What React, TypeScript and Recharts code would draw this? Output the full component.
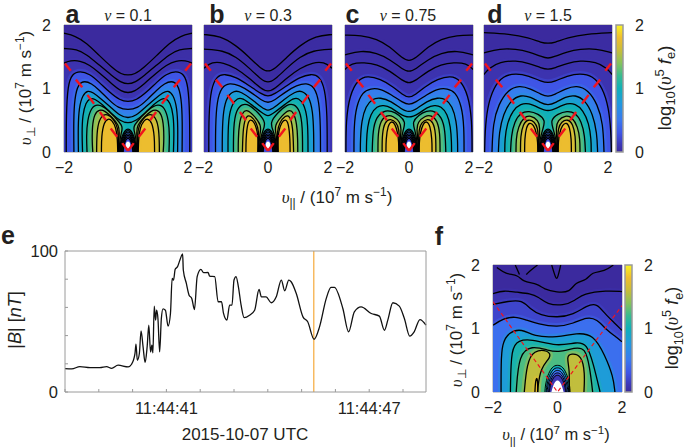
import { ScatterChart, Scatter, LineChart, Line, XAxis, YAxis, ReferenceLine } from 'recharts'

type Pt = [number, number]

// colour scale, value 0..2
const scaleValues = [0, 0.12, 0.3, 0.5, 0.75, 1, 1.2, 1.4, 1.6, 1.8, 2]
const scaleColors = ['#3b2a9e', '#3d38b8', '#3f55e6', '#3a78f0', '#2297e0', '#10b0b8', '#38bb90', '#86c25c', '#c8bd3a', '#f0bd2e', '#f9f520']

// half contours, centre (x = 0) to the outside
const aArches: Pt[][] = [
  [[0, 1.21], [0.2, 1.22], [0.5, 1.33], [0.9, 1.52], [1.3, 1.72], [1.65, 1.83], [2, 1.87]],
  [[0, 1.07], [0.2, 1.09], [0.5, 1.2], [0.9, 1.37], [1.3, 1.54], [1.6, 1.62], [2, 1.63]],
  [[0, 0.93], [0.2, 0.95], [0.5, 1.07], [0.9, 1.25], [1.2, 1.37], [1.5, 1.44], [1.8, 1.44], [2, 1.4]],
  [[0, 0.79], [0.25, 0.81], [0.6, 0.95], [0.9, 1.1], [1.2, 1.23], [1.5, 1.28], [1.75, 1.23], [1.88, 1.05], [1.93, 0.6], [1.93, 0]],
  [[0, 0.66], [0.3, 0.69], [0.6, 0.82], [0.9, 0.98], [1.15, 1.08], [1.35, 1.12], [1.55, 1.08], [1.67, 0.85], [1.7, 0.5], [1.69, 0]],
  [[0, 0.53], [0.25, 0.57], [0.55, 0.71], [0.85, 0.84], [1.1, 0.94], [1.25, 0.97], [1.42, 0.9], [1.53, 0.7], [1.56, 0.4], [1.55, 0]],
  [[0, 0.45], [0.25, 0.49], [0.55, 0.62], [0.8, 0.75], [1.05, 0.84], [1.18, 0.85], [1.32, 0.78], [1.42, 0.58], [1.44, 0.3], [1.42, 0]],
]
const aLobes: Pt[][] = [
  [[0.27, 0], [0.27, 0.12], [0.22, 0.3], [0.14, 0.4], [0.4, 0.54], [0.65, 0.68], [0.95, 0.76], [1.15, 0.7], [1.27, 0.5], [1.3, 0.25], [1.28, 0]],
  [[0.29, 0], [0.29, 0.15], [0.27, 0.3], [0.28, 0.42], [0.5, 0.55], [0.72, 0.65], [0.9, 0.67], [1.05, 0.6], [1.12, 0.4], [1.12, 0.15], [1.1, 0]],
  [[0.3, 0], [0.3, 0.2], [0.31, 0.38], [0.45, 0.52], [0.65, 0.6], [0.82, 0.58], [0.96, 0.42], [0.98, 0.12], [0.98, 0]],
  [[0.32, 0], [0.33, 0.2], [0.37, 0.38], [0.5, 0.5], [0.62, 0.53], [0.75, 0.47], [0.83, 0.25], [0.83, 0]],
]

const bArches: Pt[][] = [
  [[0, 1.265], [0.2, 1.3], [0.6, 1.5], [1, 1.68], [1.5, 1.83], [2, 1.85]],
  [[0, 1.09], [0.2, 1.13], [0.6, 1.33], [1, 1.5], [1.4, 1.6], [2, 1.62]],
  [[0, 0.95], [0.2, 0.99], [0.6, 1.17], [1, 1.32], [1.4, 1.41], [1.75, 1.42], [2, 1.32]],
  [[0, 0.87], [0.2, 0.91], [0.6, 1.05], [1, 1.18], [1.35, 1.23], [1.6, 1.2], [1.78, 1], [1.85, 0.6], [1.85, 0]],
  [[0, 0.77], [0.2, 0.81], [0.55, 0.95], [0.9, 1.05], [1.2, 1.09], [1.45, 1.03], [1.6, 0.8], [1.64, 0.4], [1.64, 0]],
  [[0, 0.64], [0.2, 0.7], [0.5, 0.83], [0.85, 0.95], [1.05, 0.97], [1.28, 0.88], [1.4, 0.65], [1.43, 0.3], [1.43, 0]],
  [[0, 0.55], [0.2, 0.62], [0.5, 0.74], [0.8, 0.85], [0.95, 0.85], [1.12, 0.76], [1.23, 0.55], [1.25, 0.25], [1.25, 0]],
]
const bLobes: Pt[][] = [
  [[0.27, 0], [0.26, 0.15], [0.18, 0.32], [0.05, 0.46], [0.3, 0.62], [0.6, 0.75], [0.8, 0.76], [1, 0.66], [1.08, 0.4], [1.08, 0]],
  [[0.29, 0], [0.28, 0.15], [0.25, 0.3], [0.2, 0.42], [0.45, 0.58], [0.65, 0.67], [0.8, 0.63], [0.9, 0.45], [0.93, 0.2], [0.93, 0]],
  [[0.3, 0], [0.3, 0.18], [0.29, 0.32], [0.35, 0.46], [0.55, 0.58], [0.68, 0.57], [0.78, 0.4], [0.8, 0]],
  [[0.32, 0], [0.31, 0.2], [0.33, 0.32], [0.42, 0.47], [0.55, 0.52], [0.64, 0.46], [0.69, 0.2], [0.69, 0]],
]

const cArches: Pt[][] = [
  [[0, 1.43], [0.2, 1.47], [0.6, 1.66], [1, 1.78], [1.5, 1.84], [2, 1.84]],
  [[0, 1.26], [0.2, 1.3], [0.6, 1.46], [1, 1.56], [1.5, 1.6], [2, 1.53]],
  [[0, 1.08], [0.2, 1.12], [0.6, 1.28], [1, 1.38], [1.4, 1.41], [1.8, 1.4], [2, 1.3]],
  [[0, 0.85], [0.2, 0.9], [0.5, 1.03], [0.9, 1.15], [1.3, 1.2], [1.6, 1.14], [1.85, 0.9], [1.97, 0.5], [1.97, 0]],
  [[0, 0.74], [0.2, 0.78], [0.55, 0.9], [0.9, 1], [1.2, 1], [1.45, 0.95], [1.65, 0.72], [1.72, 0.4], [1.72, 0]],
  [[0, 0.62], [0.25, 0.68], [0.55, 0.8], [0.9, 0.86], [1.15, 0.84], [1.35, 0.72], [1.48, 0.5], [1.52, 0.2], [1.52, 0]],
  [[0, 0.53], [0.3, 0.6], [0.55, 0.7], [0.8, 0.74], [1, 0.72], [1.2, 0.6], [1.3, 0.4], [1.33, 0.15], [1.33, 0]],
]
const cLobes: Pt[][] = [
  [[0.27, 0], [0.26, 0.15], [0.18, 0.36], [0.1, 0.47], [0.3, 0.58], [0.55, 0.65], [0.8, 0.65], [1.02, 0.55], [1.13, 0.35], [1.15, 0]],
  [[0.29, 0], [0.28, 0.18], [0.24, 0.36], [0.27, 0.47], [0.5, 0.57], [0.7, 0.58], [0.88, 0.5], [0.97, 0.3], [0.97, 0]],
  [[0.3, 0], [0.3, 0.18], [0.31, 0.35], [0.38, 0.46], [0.58, 0.53], [0.75, 0.48], [0.84, 0.3], [0.84, 0]],
  [[0.32, 0], [0.32, 0.15], [0.35, 0.3], [0.44, 0.45], [0.55, 0.49], [0.66, 0.42], [0.72, 0.2], [0.72, 0]],
]

const dArches: Pt[][] = [
  [[0, 1.71], [0.2, 1.72], [0.6, 1.8], [1.2, 1.86], [2, 1.88]],
  [[0, 1.47], [0.2, 1.5], [0.6, 1.58], [1, 1.62], [1.5, 1.63], [2, 1.56]],
  [[0, 1.3], [0.2, 1.32], [0.6, 1.4], [1, 1.44], [1.5, 1.42], [1.85, 1.32], [2, 1.22]],
  [[0, 1.09], [0.2, 1.11], [0.6, 1.2], [1, 1.24], [1.4, 1.2], [1.7, 1.02], [1.9, 0.7], [1.97, 0.3], [1.98, 0]],
  [[0, 0.87], [0.2, 0.9], [0.55, 1], [0.9, 1.05], [1.25, 0.98], [1.55, 0.75], [1.72, 0.45], [1.75, 0]],
  [[0, 0.73], [0.25, 0.78], [0.55, 0.87], [0.85, 0.9], [1.15, 0.82], [1.4, 0.6], [1.53, 0.3], [1.55, 0]],
  [[0, 0.63], [0.3, 0.7], [0.6, 0.77], [0.85, 0.76], [1.1, 0.66], [1.28, 0.45], [1.35, 0.2], [1.35, 0]],
]
const dLobes: Pt[][] = [
  [[0.27, 0], [0.26, 0.2], [0.15, 0.38], [0.08, 0.5], [0.3, 0.6], [0.6, 0.65], [0.85, 0.62], [1.05, 0.48], [1.15, 0.25], [1.17, 0]],
  [[0.29, 0], [0.28, 0.2], [0.25, 0.38], [0.3, 0.5], [0.55, 0.58], [0.75, 0.55], [0.93, 0.4], [1, 0.2], [1, 0]],
  [[0.3, 0], [0.3, 0.2], [0.32, 0.38], [0.42, 0.48], [0.62, 0.52], [0.78, 0.44], [0.86, 0.25], [0.86, 0]],
  [[0.32, 0], [0.32, 0.15], [0.36, 0.3], [0.45, 0.43], [0.58, 0.47], [0.68, 0.39], [0.73, 0.2], [0.73, 0]],
]

// levels of the bands inside each contour
const archLevels = [0.02, 0.04, 0.08, 0.3, 0.55, 0.8, 1.0]
const lobeLevels = [1.18, 1.4, 1.62, 1.78]

// nested rings round the origin, the hole in the middle of the lobes
const coreArcs: Pt[][] = [
  [[0, 0.37], [0.1, 0.34], [0.2, 0.24], [0.25, 0.1], [0.26, 0]],
  [[0, 0.345], [0.09, 0.32], [0.185, 0.22], [0.235, 0.1], [0.245, 0]],
  [[0, 0.32], [0.085, 0.3], [0.17, 0.2], [0.22, 0.09], [0.23, 0]],
  [[0, 0.295], [0.08, 0.27], [0.155, 0.18], [0.2, 0.08], [0.21, 0]],
  [[0, 0.27], [0.075, 0.25], [0.14, 0.17], [0.18, 0.08], [0.19, 0]],
  [[0, 0.245], [0.07, 0.225], [0.125, 0.16], [0.16, 0.07], [0.17, 0]],
  [[0, 0.22], [0.06, 0.2], [0.11, 0.14], [0.14, 0.06], [0.15, 0]],
]
const coreLevels = [0.85, 0.7, 0.55, 0.42, 0.3, 0.2, 0.25]
const coreHole: Pt[] = [[0, 0.17], [0.05, 0.16], [0.08, 0.11], [0.05, 0.06], [0, 0.05]]

// red dashes, right half
const redDashes: Pt[][] = [
  [[1.97, 1.395], [1.79, 1.28]],
  [[1.63, 1.14], [1.43, 1.02]],
  [[1.27, 0.9], [1.06, 0.76]],
  [[0.88, 0.63], [0.69, 0.5]],
  [[0.54, 0.37], [0.34, 0.24]],
  [[0.18, 0.14], [0, 0.02]],
]

// panel e
const bTimes = [38, 38.2, 38.44, 38.74, 39.03, 39.23, 39.38, 39.57, 39.87, 39.97, 40.07, 40.1, 40.14, 40.2, 40.25, 40.31, 40.37, 40.43, 40.48, 40.53, 40.57, 40.6, 40.64, 40.68, 40.71, 40.75, 40.8, 40.85, 40.9, 40.97, 41.05, 41.12, 41.17, 41.21, 41.26, 41.33, 41.4, 41.48, 41.5, 41.59, 41.67, 41.75, 41.83, 41.91, 42.02, 42.1, 42.23, 42.28, 42.43, 42.53, 42.63, 42.69, 42.79, 42.87, 42.94, 43, 43.06, 43.13, 43.21, 43.3, 43.46, 43.61, 43.74, 43.81, 43.95, 44.1, 44.25, 44.4, 44.5, 44.62, 44.69, 44.84, 45.04, 45.18, 45.37, 45.53, 45.73, 45.87, 45.97, 46.22, 46.39, 46.56, 46.76, 47.06, 47.3, 47.45, 47.55, 47.7, 47.89, 48.04, 48.2, 48.33, 48.5, 48.68]
const bField = [16.6, 16.4, 18, 17.3, 17.3, 18, 16.8, 19, 17.8, 19.7, 27.2, 33.9, 22.5, 27.3, 43.4, 32, 21, 32, 47.4, 28.4, 33.2, 27.7, 60.9, 51, 58, 52, 28.4, 52, 59, 58, 46.7, 55.7, 80.6, 79.4, 87, 88.9, 93.6, 97.9, 86.5, 77, 68.7, 66.4, 58.5, 81.8, 87, 84.6, 84.8, 82.2, 81.8, 64, 64, 55.7, 51, 61.6, 61.6, 79.4, 81.8, 74.6, 61.6, 52.8, 54.5, 58, 72.7, 67.5, 67.5, 63.3, 67.5, 79.4, 71.8, 79.4, 78.2, 70, 53.3, 49.8, 37.4, 46.2, 66.4, 74.2, 74.2, 59.2, 42.7, 56.9, 60.4, 55.7, 53.8, 43.8, 51, 63.3, 60.9, 52.1, 39.6, 42.7, 51.4, 47.4]
const bTable = bTimes.map((t, i) => ({ t, b: bField[i] }))
const timeTicks = [38, 39, 40, 41, 42, 43, 44, 45, 46, 47, 48]
const timeLabels: Record<number, string> = { 41: '11:44:41', 47: '11:44:47' }
const fieldTicks = [0, 20, 40, 60, 80, 100]
const markerTime = 45.36

// panel f
const fOpen: Pt[][] = [
  [[-1.88, 1.96], [-1.62, 1.86], [-1.2, 1.84], [-1.1, 1.74], [-0.59, 1.7], [-0.43, 1.62], [-0.02, 1.57], [0.39, 1.57], [0.55, 1.73], [0.91, 1.76], [1.06, 1.89], [1.47, 1.9], [1.73, 2]],
  [[-1.31, 2], [-1.18, 1.85]],
  [[-0.97, 1.85], [-0.8, 1.93], [-0.62, 2]],
  [[-0.18, 2], [-0.05, 1.78], [0, 1.78], [0.1, 2]],
]
const fBands: Pt[][] = [
  [[-2, 1.55], [-1.67, 1.6], [-1.25, 1.57], [-0.85, 1.55], [-0.59, 1.5], [-0.33, 1.38], [0.19, 1.36], [0.55, 1.44], [0.8, 1.55], [1.53, 1.6], [2, 1.58]],
  [[-2, 1.38], [-1.52, 1.43], [-1.1, 1.45], [-0.85, 1.31], [-0.54, 1.21], [0, 1.17], [0.5, 1.22], [0.91, 1.36], [1.22, 1.4], [1.47, 1.23], [1.78, 1.08], [2, 0.97]],
  [[-2, 1.05], [-1.67, 1.16], [-1.31, 1.19], [-1, 1.14], [-0.6, 1.07], [0, 1.02], [0.5, 1.08], [0.91, 1.18], [1.22, 1.15], [1.53, 0.97], [1.81, 0.87], [2, 0.79]],
  [[-1.75, 0], [-1.75, 0.45], [-1.72, 0.76], [-1.52, 0.94], [-1.1, 1], [-0.74, 0.87], [0, 0.86], [0.6, 0.93], [1.11, 0.91], [1.47, 0.58], [1.73, 0.24], [1.78, 0]],
  [[-1.46, 0], [-1.44, 0.71], [-1.2, 0.81], [-0.85, 0.84], [0, 0.71], [0.6, 0.79], [0.91, 0.76], [1.11, 0.45], [1.32, 0]],
  [[-1.28, 0], [-1.2, 0.6], [-0.8, 0.73], [-0.3, 0.66], [0, 0.62], [0.55, 0.7], [0.85, 0.7], [1, 0.4], [1.09, 0]],
]
const fBandLevels = [0.08, 0.2, 0.45, 0.8, 1.05, 1.25]
const fLobes: Pt[][] = [
  [[-1.03, 0], [-0.95, 0.45], [-0.74, 0.66], [-0.28, 0.66], [-0.18, 0.55], [-0.54, 0.39], [-0.62, 0]],
  [[0.36, 0], [0.38, 0.35], [0.28, 0.56], [0.42, 0.61], [0.75, 0.58], [0.85, 0.3], [0.82, 0]],
  [[-0.7, 0], [-0.68, 0.2], [-0.62, 0.24], [-0.61, 0]],
]
const fLobeLevels = [1.58, 1.58, 1.78]
const fArcs: Pt[][] = [
  [[0, 0.43], [0.17, 0.4], [0.31, 0.26], [0.38, 0.1], [0.39, 0]],
  [[0, 0.39], [0.15, 0.36], [0.28, 0.23], [0.34, 0.09], [0.35, 0]],
  [[0, 0.35], [0.13, 0.32], [0.25, 0.2], [0.31, 0.08], [0.32, 0]],
  [[0, 0.31], [0.12, 0.28], [0.22, 0.18], [0.27, 0.07], [0.28, 0]],
  [[0, 0.27], [0.1, 0.25], [0.2, 0.15], [0.24, 0.06], [0.25, 0]],
]
const fArcLevels = [1, 0.7, 0.45, 0.25, 0.1]
const fHole: Pt[] = [[0, 0.19], [0.08, 0.16], [0.15, 0.08], [0.19, 0]]
const fRedLine: Pt[] = [[-2, 1.42], [0, 0], [2, 1.36]]

const box: Pt[] = [[-2, 0], [-2, 2], [2, 2], [2, 0]]
const barBox: Pt[] = [[0, 0], [0, 2], [1, 2], [1, 0]]
const SANS = '"Liberation Sans", Arial, sans-serif'
const INK = '#231f20'
const FRAME = '#9a9a9a'
// every axis below takes one pixel of the plot, so M plus one is the space round it
const M = { top: 11, right: 29, bottom: 25, left: 29 }

const noDot = () => null
const toXY = (p: Pt[]) => p.map(([x, y]) => ({ x, y }))
const mirrorX = (p: Pt[]): Pt[] => p.map(([x, y]) => [-x, y] as Pt)
const both = (half: Pt[]): Pt[] => [...mirrorX(half.slice(1)).reverse(), ...half]
const minus = (v: number) => String(v).replace('-', '−')

function colorAt(v: number) {
  let i = 0
  while (i < scaleValues.length - 2 && v > scaleValues[i + 1]) i++
  const f = (v - scaleValues[i]) / (scaleValues[i + 1] - scaleValues[i])
  const ch = (c: string, s: number) => parseInt(c.slice(s, s + 2), 16)
  const mix = (s: number) => Math.round(ch(scaleColors[i], s) * (1 - f) + ch(scaleColors[i + 1], s) * f)
  return `rgb(${mix(1)},${mix(3)},${mix(5)})`
}

// open ends at the sides: run the fill down round the bottom corners
function closed(p: Pt[]): Pt[] {
  const a = p[0]
  const b = p[p.length - 1]
  if (b[1] === 0) return p
  return [...p, b, b, [b[0], 0], [b[0], 0], [b[0], 0], [a[0], 0], [a[0], 0], [a[0], 0]]
}

const fillSeries = (key: string, points: Pt[], color: string, joint: any = 'basis') => (
  <Scatter key={key} data={toXY(points)} shape={noDot} line={{ fill: color, stroke: 'none' }} lineJointType={joint} isAnimationActive={false} />
)
// same fill with a soft rim, so a band shades into the next one
const softSeries = (key: string, points: Pt[], color: string) => (
  <Scatter key={key} data={toXY(points)} shape={noDot} line={{ fill: color, stroke: color, strokeWidth: 6, strokeOpacity: 0.4 }} lineJointType="basis" isAnimationActive={false} />
)
const strokeSeries = (key: string, points: Pt[], color = '#000', w = 1.3, joint: any = 'basis', dash?: string) => (
  <Scatter key={key} data={toXY(points)} shape={noDot} line={{ fill: 'none', stroke: color, strokeWidth: w, strokeDasharray: dash }} lineJointType={joint} isAnimationActive={false} />
)

// the top row has its right hand "2" pulled in, clear of the next panel's "−2"
function PulledTick({ x, y, payload }: any) {
  const v = payload.value
  return (
    <text x={v === 2 ? x - 4 : x} y={y} dy="0.71em" textAnchor="middle" fontSize={16} fill={INK} fontFamily={SANS}>{minus(v)}</text>
  )
}

const frameAxes = (yLabels: boolean, pulled: boolean) => [
  <XAxis key="xb" type="number" dataKey="x" domain={[-2, 2]} ticks={[-2, 0, 2]} height={1} tickLine={false} stroke={FRAME} allowDataOverflow
    tick={pulled ? PulledTick : { fontSize: 16, fill: INK, fontFamily: SANS }} tickFormatter={minus} tickMargin={4} interval={0} />,
  <XAxis key="xt" xAxisId="t" orientation="top" type="number" domain={[-2, 2]} height={1} tick={false} tickLine={false} stroke={FRAME} />,
  <YAxis key="yl" type="number" dataKey="y" domain={[0, 2]} ticks={[0, 1, 2]} width={1} tickLine={false} stroke={FRAME} allowDataOverflow
    tick={yLabels ? { fontSize: 16, fill: INK, fontFamily: SANS } : false} tickMargin={7} interval={0} />,
  <YAxis key="yr" yAxisId="r" orientation="right" type="number" domain={[0, 2]} width={1} tick={false} tickLine={false} stroke={FRAME} />,
]

function HeatPanel({ left, top, arches, lobes, yLabels }: { left: number; top: number; arches: Pt[][]; lobes: Pt[][]; yLabels?: boolean }) {
  return (
    <div style={{ position: 'absolute', left: left - 30, top: top - 12 }}>
      <ScatterChart width={128 + 60} height={127 + 38} margin={M}>
        {frameAxes(!!yLabels, true)}
        {fillSeries('bg', box, colorAt(0), 'linear')}
        {arches.map((h, i) => softSeries(`af${i}`, closed(both(h)), colorAt(archLevels[i])))}
        {lobes.map((h, i) => softSeries(`lr${i}`, h, colorAt(lobeLevels[i])))}
        {lobes.map((h, i) => softSeries(`ll${i}`, mirrorX(h), colorAt(lobeLevels[i])))}
        {arches.map((h, i) => strokeSeries(`as${i}`, both(h)))}
        {lobes.map((h, i) => strokeSeries(`lsr${i}`, h))}
        {lobes.map((h, i) => strokeSeries(`lsl${i}`, mirrorX(h)))}
        {coreArcs.map((h, i) => fillSeries(`cf${i}`, both(h), colorAt(coreLevels[i])))}
        {coreArcs.map((h, i) => strokeSeries(`cs${i}`, both(h), '#000', 1.2))}
        {fillSeries('hole', both(coreHole), '#ffffff')}
        {redDashes.map((s, i) => strokeSeries(`rr${i}`, s, '#f0141e', 2.4, 'linear'))}
        {redDashes.map((s, i) => strokeSeries(`rl${i}`, mirrorX(s), '#f0141e', 2.4, 'linear'))}
      </ScatterChart>
    </div>
  )
}

function ColorBar({ left, top, id }: { left: number; top: number; id: string }) {
  return (
    <div style={{ position: 'absolute', left: left - 3, top: top - 12 }}>
      <ScatterChart width={7 + 3 + 30} height={127 + 38} margin={{ top: 12, bottom: 25, left: 2, right: 29 }}>
        <defs>
          <linearGradient id={id} x1="0" y1="1" x2="0" y2="0">
            {scaleValues.map((v, i) => <stop key={v} offset={v / 2} stopColor={scaleColors[i]} />)}
          </linearGradient>
        </defs>
        <XAxis type="number" dataKey="x" domain={[0, 1]} height={1} tick={false} tickLine={false} axisLine={false} />
        <YAxis orientation="right" type="number" dataKey="y" domain={[0, 2]} ticks={[0, 1, 2]} width={1} tickLine={false} axisLine={false} interval={0}
          tick={{ fontSize: 16, fill: INK, fontFamily: SANS }} tickMargin={6} />
        <Scatter data={toXY(barBox)} shape={noDot} line={{ fill: `url(#${id})`, stroke: FRAME, strokeWidth: 1.5 }} lineJointType="linearClosed" isAnimationActive={false} />
        <YAxis yAxisId="l" type="number" domain={[0, 2]} ticks={[1]} width={1} tickSize={-2} tick={false} axisLine={false} stroke="#111" interval={0} />
      </ScatterChart>
    </div>
  )
}

function PanelF() {
  return (
    <div style={{ position: 'absolute', left: 493 - 30, top: 265 - 12 }}>
      <ScatterChart width={129 + 60} height={127 + 38} margin={M}>
        {frameAxes(true, false)}
        {fillSeries('bg', box, colorAt(0), 'linear')}
        {fBands.map((p, i) => softSeries(`bf${i}`, closed(p), colorAt(fBandLevels[i])))}
        {fLobes.map((p, i) => softSeries(`lf${i}`, p, colorAt(fLobeLevels[i])))}
        {fArcs.map((h, i) => fillSeries(`af${i}`, both(h), colorAt(fArcLevels[i])))}
        {fillSeries('hole', both(fHole), '#ffffff')}
        {fOpen.map((p, i) => strokeSeries(`os${i}`, p))}
        {fBands.map((p, i) => strokeSeries(`bs${i}`, p))}
        {fLobes.map((p, i) => strokeSeries(`ls${i}`, p))}
        {fArcs.map((h, i) => strokeSeries(`as${i}`, both(h), '#000', 1))}
        {strokeSeries('red', fRedLine, '#f0141e', 1.2, 'linear', '4 3')}
      </ScatterChart>
    </div>
  )
}

function PanelE() {
  return (
    <div style={{ position: 'absolute', left: 65 - 40, top: 251 - 12 }}>
      <LineChart width={361 + 70} height={141 + 42} data={bTable} margin={{ top: 11, right: 29, bottom: 29, left: 39 }}>
        <XAxis type="number" dataKey="t" domain={[38, 48.68]} ticks={timeTicks} interval={0} height={1} tickSize={-3} stroke={FRAME} tickMargin={13}
          tick={{ fontSize: 16.5, fill: INK, fontFamily: SANS }} tickFormatter={(v: number) => timeLabels[v] ?? ''} />
        <XAxis xAxisId="t" orientation="top" type="number" dataKey="t" domain={[38, 48.68]} ticks={timeTicks} interval={0} height={1} tickSize={-3} stroke={FRAME} tick={false} />
        <YAxis type="number" domain={[0, 100]} ticks={fieldTicks} interval={0} width={1} tickSize={-3} stroke={FRAME} tickMargin={10}
          tick={{ fontSize: 16.5, fill: INK, fontFamily: SANS }} tickFormatter={(v: number) => (v === 0 || v === 100 ? String(v) : '')} />
        <YAxis yAxisId="r" orientation="right" type="number" domain={[0, 100]} ticks={fieldTicks} interval={0} width={1} tickSize={-3} stroke={FRAME} tick={false} />
        <ReferenceLine x={markerTime} stroke="#f6b04a" strokeWidth={1.3} />
        <Line dataKey="b" stroke="#111" strokeWidth={1.3} dot={false} isAnimationActive={false} type="monotone" />
      </LineChart>
    </div>
  )
}

function Txt({ x, y, size, rot, weight, children }: { x: number; y: number; size: number; rot?: boolean; weight?: number; children: React.ReactNode }) {
  return (
    <div style={{
      position: 'absolute', left: x, top: y, whiteSpace: 'nowrap', fontFamily: SANS, fontSize: size, fontWeight: weight, color: INK, lineHeight: 1,
      transform: `translate(-50%,-50%)${rot ? ' rotate(-90deg)' : ''}`,
    }}>{children}</div>
  )
}

const Ups = () => <span style={{ fontFamily: '"Liberation Serif", serif', fontStyle: 'italic' }}>υ</span>
const Sup = ({ children }: { children: React.ReactNode }) => <sup style={{ fontSize: '0.7em', lineHeight: 0 }}>{children}</sup>
const Sub = ({ children }: { children: React.ReactNode }) => <sub style={{ fontSize: '0.7em', lineHeight: 0 }}>{children}</sub>
const Perp = () => <><Ups /><Sub>⊥</Sub>{' / (10'}<Sup>7</Sup>{' m s'}<Sup>−1</Sup>{')'}</>
const Para = () => <><Ups /><Sub>||</Sub>{' / (10'}<Sup>7</Sup>{' m s'}<Sup>−1</Sup>{')'}</>
const LogLabel = () => <>log<Sub>10</Sub>(<Ups /><Sup>5</Sup> <i>f</i><Sub>e</Sub>)</>
const Title = ({ v }: { v: string }) => <><span style={{ fontFamily: '"Liberation Serif", serif', fontStyle: 'italic' }}>v</span>{` = ${v}`}</>

export default function App() {
  return (
    <div style={{ position: 'absolute', left: 0, top: 0, width: 685, height: 448, background: '#fff', overflow: 'hidden' }}>
      <HeatPanel left={64} top={25} arches={aArches} lobes={aLobes} yLabels />
      <HeatPanel left={204} top={25} arches={bArches} lobes={bLobes} />
      <HeatPanel left={345} top={25} arches={cArches} lobes={cLobes} />
      <HeatPanel left={484} top={25} arches={dArches} lobes={dLobes} />
      <ColorBar left={616} top={25} id="barTop" />
      <PanelE />
      <PanelF />
      <ColorBar left={625} top={265} id="barF" />

      <Txt x={72.5} y={14} size={25} weight={700}>a</Txt>
      <Txt x={217} y={14} size={25} weight={700}>b</Txt>
      <Txt x={352.5} y={14} size={25} weight={700}>c</Txt>
      <Txt x={495} y={14} size={25} weight={700}>d</Txt>
      <Txt x={8} y={235} size={25} weight={700}>e</Txt>
      <Txt x={439} y={236} size={25} weight={700}>f</Txt>

      <Txt x={128} y={16} size={16}><Title v="0.1" /></Txt>
      <Txt x={268} y={16} size={16}><Title v="0.3" /></Txt>
      <Txt x={408} y={16} size={16}><Title v="0.75" /></Txt>
      <Txt x={548} y={16} size={16}><Title v="1.5" /></Txt>

      <Txt x={25} y={88} size={17} rot><Perp /></Txt>
      <Txt x={337} y={197} size={17}><Para /></Txt>
      <Txt x={665} y={88} size={18.5} rot><LogLabel /></Txt>
      <Txt x={15} y={320} size={18} rot>|<i>B</i>| [<i>nT</i>]</Txt>
      <Txt x={245} y={434} size={17}>2015-10-07 UTC</Txt>
      <Txt x={456} y={330} size={17} rot><Perp /></Txt>
      <Txt x={556} y={434.5} size={16.5}><Para /></Txt>
      <Txt x={672} y={328} size={18} rot><LogLabel /></Txt>
    </div>
  )
}
